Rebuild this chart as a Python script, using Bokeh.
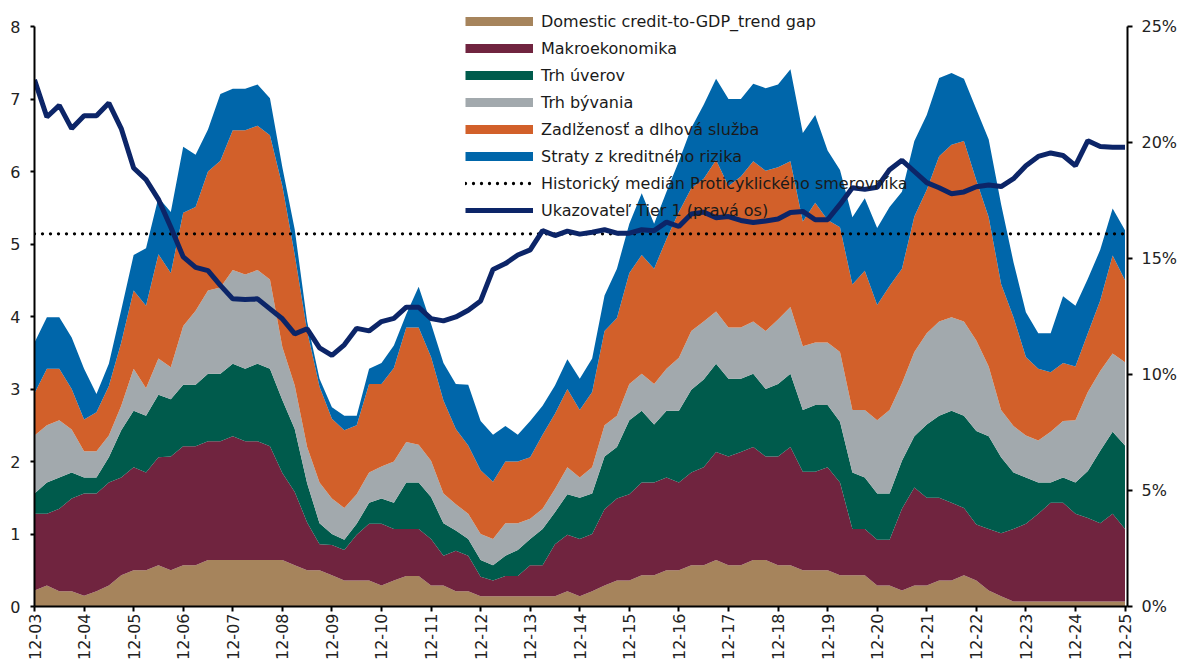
import math
from bokeh.plotting import figure
from bokeh.models import (Range1d, LinearAxis, FixedTicker, ColumnDataSource,
                          Legend, LegendItem, PrintfTickFormatter)
from bokeh.embed import file_html
from bokeh.resources import INLINE

FONT = "DejaVu Sans"

# quarterly observations 2003Q4 .. 2025Q4
quarters = [f"{2003 + (k + 3) // 4}Q{(k + 3) % 4 + 1}" for k in range(89)]
tick_labels = ["12-03", "12-04", "12-05", "12-06", "12-07", "12-08", "12-09", "12-10",
               "12-11", "12-12", "12-13", "12-14", "12-15", "12-16", "12-17", "12-18",
               "12-19", "12-20", "12-21", "12-22", "12-23", "12-24", "12-25"]

# upper edges of the stacked areas (cumulative, left axis)
credit_gap_top = [0.22,0.29,0.21,0.21,0.15,0.21,0.29,0.43,0.50,0.50,
 0.57,0.50,0.57,0.57,0.64,0.64,0.64,0.64,0.64,0.64,
 0.64,0.57,0.50,0.50,0.43,0.36,0.36,0.36,0.29,0.36,
 0.42,0.42,0.29,0.29,0.21,0.21,0.14,0.14,0.14,0.14,
 0.14,0.14,0.14,0.21,0.14,0.21,0.29,0.36,0.36,0.43,
 0.43,0.50,0.50,0.57,0.57,0.64,0.57,0.57,0.64,0.64,
 0.57,0.57,0.50,0.50,0.50,0.43,0.43,0.43,0.29,0.29,
 0.22,0.29,0.29,0.36,0.36,0.43,0.36,0.22,0.14,0.07,
 0.07,0.07,0.07,0.07,0.07,0.07,0.07,0.07,0.07]

makro_top = [1.28,1.28,1.35,1.49,1.56,1.56,1.71,1.78,1.92,1.85,
 2.06,2.07,2.21,2.21,2.28,2.28,2.35,2.28,2.28,2.21,
 1.84,1.58,1.16,0.86,0.85,0.78,0.99,1.14,1.14,1.07,
 1.07,1.07,0.93,0.70,0.77,0.70,0.41,0.36,0.42,0.42,
 0.57,0.57,0.86,0.99,0.93,1.00,1.34,1.49,1.55,1.71,
 1.71,1.78,1.71,1.85,1.92,2.13,2.07,2.13,2.20,2.07,
 2.07,2.20,1.86,1.86,1.92,1.71,1.07,1.07,0.92,0.92,
 1.35,1.64,1.50,1.50,1.43,1.36,1.13,1.07,1.01,1.07,
 1.14,1.28,1.43,1.43,1.28,1.22,1.15,1.28,1.07]

uvery_top = [1.56,1.71,1.78,1.85,1.78,1.78,2.06,2.43,2.70,2.63,
 2.92,2.86,3.06,3.06,3.21,3.21,3.35,3.28,3.35,3.28,
 2.85,2.45,1.70,1.15,1.00,0.92,1.14,1.43,1.49,1.43,
 1.71,1.71,1.51,1.15,1.05,0.93,0.64,0.57,0.70,0.78,
 0.93,1.07,1.30,1.55,1.50,1.56,2.07,2.20,2.57,2.70,
 2.51,2.70,2.70,2.99,3.13,3.35,3.14,3.14,3.21,3.00,
 3.07,3.21,2.71,2.78,2.78,2.55,1.85,1.78,1.56,1.56,
 2.01,2.35,2.51,2.63,2.70,2.63,2.42,2.35,2.06,1.85,
 1.78,1.71,1.71,1.78,1.71,1.87,2.15,2.41,2.22]

byvanie_top = [2.36,2.50,2.57,2.44,2.14,2.14,2.36,2.77,3.28,3.01,
 3.42,3.30,3.87,4.08,4.36,4.40,4.64,4.58,4.64,4.51,
 3.58,3.05,2.20,1.71,1.49,1.36,1.55,1.85,1.93,2.00,
 2.27,2.23,2.01,1.56,1.41,1.28,1.00,0.93,1.15,1.15,
 1.21,1.35,1.62,1.92,1.78,1.92,2.50,2.63,3.07,3.21,
 3.07,3.28,3.43,3.80,3.93,4.07,3.85,3.85,3.93,3.80,
 3.96,4.13,3.59,3.64,3.64,3.51,2.71,2.71,2.57,2.71,
 3.08,3.51,3.77,3.93,3.99,3.93,3.67,3.31,2.71,2.49,
 2.36,2.29,2.41,2.56,2.57,2.96,3.25,3.49,3.37]

zadlzenost_top = [2.94,3.28,3.28,3.00,2.58,2.68,3.04,3.64,4.36,4.15,
 4.86,4.60,5.43,5.51,6.00,6.15,6.57,6.57,6.63,6.50,
 5.80,4.85,3.80,3.03,2.59,2.43,2.50,3.07,3.07,3.29,
 3.85,3.85,3.44,2.84,2.45,2.22,1.88,1.72,2.00,2.00,
 2.06,2.37,2.66,3.00,2.71,2.96,3.80,3.98,4.60,4.85,
 4.66,5.07,5.44,5.77,5.90,6.16,5.80,5.93,6.14,6.01,
 6.06,6.14,5.31,5.57,5.33,5.23,4.44,4.63,4.16,4.42,
 4.66,5.38,5.75,6.21,6.37,6.42,5.88,5.37,4.45,3.99,
 3.44,3.28,3.23,3.36,3.31,3.77,4.22,4.84,4.50]

straty_top = [3.64,3.99,3.99,3.71,3.28,2.93,3.35,4.09,4.85,4.94,
 5.64,5.44,6.34,6.23,6.58,7.07,7.14,7.14,7.20,7.01,
 6.06,5.20,3.93,3.14,2.75,2.63,2.63,3.28,3.36,3.60,
 4.03,4.41,3.90,3.36,3.07,3.06,2.56,2.37,2.49,2.37,
 2.56,2.77,3.05,3.41,3.14,3.42,4.29,4.66,5.28,5.70,
 5.28,5.72,6.14,6.60,6.92,7.28,7.00,7.00,7.21,7.15,
 7.20,7.41,6.53,6.78,6.29,6.02,5.37,5.63,5.22,5.51,
 5.72,6.42,6.78,7.29,7.36,7.28,6.86,6.44,5.55,4.75,
 4.06,3.77,3.77,4.28,4.15,4.52,4.92,5.49,5.19]

historical_median = 5.14

# Tier 1 ratio, % (right axis)
tier1 = [22.70,21.10,21.60,20.60,21.15,21.15,21.70,20.60,18.90,18.40,
 17.55,16.35,15.07,14.62,14.48,13.84,13.26,13.23,13.26,12.83,
 12.40,11.75,11.97,11.15,10.82,11.28,11.99,11.88,12.28,12.42,
 12.90,12.90,12.41,12.31,12.48,12.77,13.17,14.53,14.78,15.15,
 15.37,16.20,15.99,16.18,16.05,16.13,16.24,16.09,16.09,16.24,
 16.20,16.57,16.38,16.92,17.00,16.76,16.81,16.64,16.55,16.62,
 16.70,16.98,17.03,16.67,16.67,17.33,18.05,17.98,18.07,18.83,
 19.23,18.75,18.27,18.05,17.79,17.87,18.09,18.17,18.10,18.44,
 19.00,19.40,19.55,19.44,19.00,20.08,19.83,19.80,19.80]

labels = ["Domestic credit-to-GDP_trend gap", "Makroekonomika", "Trh úverov",
          "Trh bývania", "Zadlženosť a dlhová služba", "Straty z kreditného rizika",
          "Historický medián Proticyklického smerovníka", "Ukazovateľ Tier 1 (pravá os)"]
colors = ["#A6845C", "#70243F", "#005B4C", "#A2A9AD", "#D2602A", "#0066AA"]
navy = "#0C2568"

n = len(quarters)
src = ColumnDataSource(dict(
    x=list(range(n)), q=quarters, zero=[0.0] * n,
    b=credit_gap_top, m=makro_top, g=uvery_top, h=byvanie_top,
    o=zadlzenost_top, s=straty_top, t=tier1, med=[historical_median] * n,
    blank=[float("nan")] * n))

# frame spans 8..606 px; the axes themselves are bounded to 0..8 and 0..25 %
TOP_PAD = 598.0 / 580.0
p = figure(width=1180, height=664, output_backend="svg", toolbar_location=None,
           x_range=Range1d(0, 88.2), y_range=Range1d(0, 8 * TOP_PAD),
           min_border_left=34, min_border_right=52, min_border_top=8,
           min_border_bottom=58)
p.outline_line_color = None
p.grid.visible = False
p.background_fill_color = "white"
p.border_fill_color = "white"

layers = [("zero", "b"), ("b", "m"), ("m", "g"), ("g", "h"), ("h", "o"), ("o", "s")]
for (lo, hi), c in zip(layers, colors):
    p.varea(x="x", y1=lo, y2=hi, source=src, fill_color=c, fill_alpha=1.0)

med = p.line(x="x", y="med", source=src, line_color="black", line_width=3.3,
             line_dash="0 8", line_cap="round")

p.extra_y_ranges = {"pct": Range1d(0, 25 * TOP_PAD)}
tier = p.line(x="x", y="t", source=src, y_range_name="pct", line_color=navy,
              line_width=5)

# axes
def style_axis(ax, size="16px"):
    ax.axis_line_color = "black"
    ax.axis_line_width = 2
    ax.major_tick_line_color = "black"
    ax.major_tick_line_width = 2
    ax.major_tick_in = 0
    ax.minor_tick_line_color = None
    ax.major_label_text_font = FONT
    ax.major_label_text_font_size = size
    ax.major_label_text_color = "#222222"

xa = p.xaxis[0]
style_axis(xa)
xa.ticker = FixedTicker(ticks=[4 * i for i in range(len(tick_labels))])
xa.major_label_overrides = {4 * i: lab for i, lab in enumerate(tick_labels)}
xa.major_label_orientation = math.pi / 2
xa.major_tick_out = 5
xa.major_label_standoff = 2

ya = p.yaxis[0]
style_axis(ya)
ya.ticker = FixedTicker(ticks=list(range(0, 9)))
ya.bounds = (0, 8)
ya.major_tick_out = 4
ya.major_label_standoff = 10

ra = LinearAxis(y_range_name="pct", ticker=FixedTicker(ticks=[0, 5, 10, 15, 20, 25]),
                formatter=PrintfTickFormatter(format="%d%%"), bounds=(0, 25))
style_axis(ra)
ra.major_tick_out = 5
ra.major_label_standoff = 9
p.add_layout(ra, "right")

# legend (area entries shown as thick bars, via invisible all-NaN proxy lines)
proxies = [p.line(x="x", y="blank", source=src, line_color=c, line_width=9)
           for c in colors]
items = [LegendItem(label=lab, renderers=[r]) for lab, r in zip(labels[:6], proxies)]
items.append(LegendItem(label=labels[6], renderers=[med]))
items.append(LegendItem(label=labels[7], renderers=[tier]))
legend = Legend(items=items, location=(431, 386), orientation="vertical",
                glyph_width=68, glyph_height=20, label_height=20, label_standoff=8,
                spacing=7, padding=0, margin=0, border_line_color=None,
                background_fill_alpha=0, label_text_font=FONT,
                label_text_font_size="16px", label_text_color="#1a1a1a")
p.add_layout(legend, "center")

open("out.html", "w").write(file_html(p, INLINE))
